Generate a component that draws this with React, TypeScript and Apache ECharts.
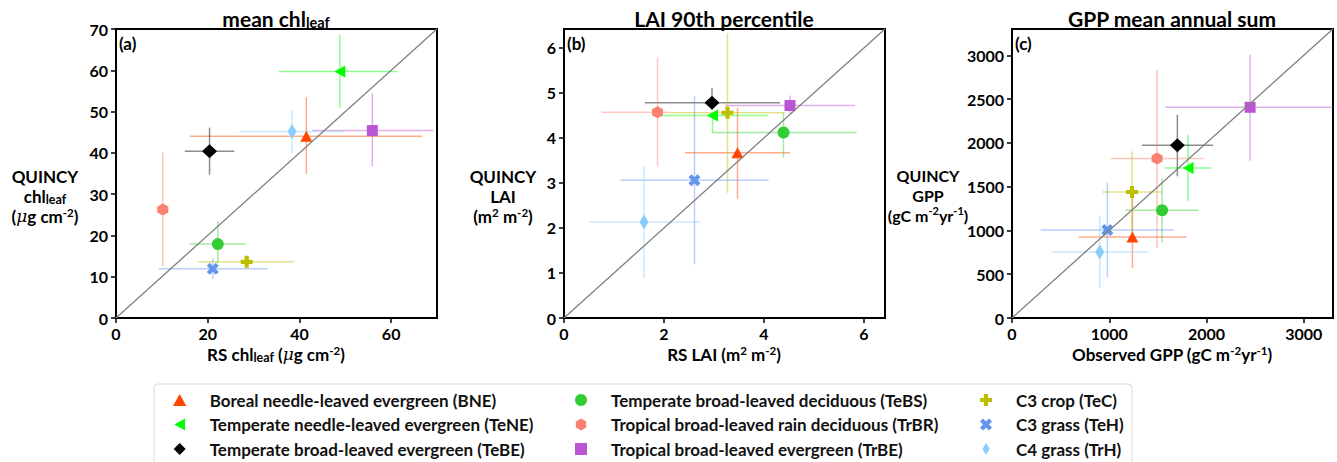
import React, { useEffect, useRef } from 'react';
import * as echarts from 'echarts';

// ---------- data ----------
const PFT_NAMES = [
  'Boreal needle-leaved evergreen (BNE)',
  'Temperate needle-leaved evergreen (TeNE)',
  'Temperate broad-leaved evergreen (TeBE)',
  'Temperate broad-leaved deciduous (TeBS)',
  'Tropical broad-leaved rain deciduous (TrBR)',
  'Tropical broad-leaved evergreen (TrBE)',
  'C3 crop (TeC)',
  'C3 grass (TeH)',
  'C4 grass (TrH)',
];

// Panel (a) mean chl_leaf
const CHL_RS = [41.5, 48.8, 20.4, 22.2, 10.2, 55.9, 28.5, 21.1, 38.4];
const CHL_RS_LO = [16.1, 35.5, 15.0, 16.1, 10.2, 42.8, 18.0, 9.3, 27.0];
const CHL_RS_HI = [66.8, 61.3, 25.8, 28.3, 10.2, 69.2, 38.9, 33.1, 49.7];
const CHL_Q = [44.0, 59.7, 40.4, 17.9, 26.3, 45.4, 13.6, 11.9, 45.2];
const CHL_Q_LO = [34.9, 50.8, 34.7, 13.3, 12.5, 36.7, 12.5, 9.4, 39.8];
const CHL_Q_HI = [53.5, 68.6, 46.1, 23.4, 40.0, 54.5, 14.9, 14.5, 50.4];

// Panel (b) LAI 90th percentile
const LAI_RS = [3.47, 2.97, 2.96, 4.39, 1.87, 4.52, 3.27, 2.61, 1.6];
const LAI_RS_LO = [2.42, 1.95, 1.62, 2.97, 0.75, 3.22, 2.12, 1.13, 0.5];
const LAI_RS_HI = [4.52, 4.08, 4.32, 5.85, 2.12, 5.82, 4.42, 4.09, 2.72];
const LAI_Q = [3.67, 4.5, 4.78, 4.12, 4.57, 4.72, 4.56, 3.06, 2.13];
const LAI_Q_LO = [2.65, 4.12, 4.63, 3.56, 3.37, 4.55, 2.78, 1.19, 0.89];
const LAI_Q_HI = [4.67, 4.55, 5.11, 4.56, 5.78, 4.94, 6.33, 4.93, 3.37];

// Panel (c) GPP mean annual sum
const GPP_OBS = [1238, 1810, 1700, 1543, 1491, 2448, 1234, 980, 902];
const GPP_OBS_LO = [686, 1570, 1337, 1166, 1011, 1577, 929, 295, 405];
const GPP_OBS_HI = [1793, 2050, 2067, 1920, 1971, 3400, 1543, 1666, 1406];
const GPP_Q = [925, 1713, 1972, 1230, 1820, 2406, 1439, 1005, 754];
const GPP_Q_LO = [571, 1332, 1618, 864, 799, 1797, 933, 464, 343];
const GPP_Q_HI = [1446, 2094, 2322, 1591, 2836, 3007, 1903, 1549, 1169];

// axis ranges / tick steps
const AXIS_MAX = [70, 6.42, 3300];
const X_STEP = [20, 2, 1000];
const Y_STEP = [10, 1, 500];

// ---------- styles ----------
const COLORS = ['#ff4500', '#00ff00', '#000000', '#32cd32', '#fa8072', '#ba55d3', '#bfbf00', '#6495ed', '#87cefa'];
const TRI_UP = 'path://M0,0L1,1.8L-1,1.8Z';
const TRI_LEFT = 'path://M0,0L1.8,-1L1.8,1Z';
const DIAMOND = 'path://M0,-1L1,0L0,1L-1,0Z';
const SQUARE = 'path://M0,0L1,0L1,1L0,1Z';
const HEX = 'path://M0,-1L0.866,-0.5L0.866,0.5L0,1L-0.866,0.5L-0.866,-0.5Z';
const PLUS = 'path://M-0.35,-1L0.35,-1L0.35,-0.35L1,-0.35L1,0.35L0.35,0.35L0.35,1L-0.35,1L-0.35,0.35L-1,0.35L-1,-0.35L-0.35,-0.35Z';
const CROSS = 'path://M0.474,-0.94L0.94,-0.474L0.467,0L0.94,0.474L0.474,0.94L0,0.467L-0.474,0.94L-0.94,0.474L-0.467,0L-0.94,-0.474L-0.474,-0.94L0,-0.467Z';
const THIN_DIAMOND = 'path://M0,-1L0.6,0L0,1L-0.6,0Z';
const SYMBOLS = [TRI_UP, TRI_LEFT, DIAMOND, 'circle', HEX, SQUARE, PLUS, CROSS, THIN_DIAMOND];
const SIZES: any[] = [[12, 11], [11, 12], [15, 14], [12, 12], [11, 12], [11, 11], [12, 12], [12, 12], [9, 15]];

const FONT = 'Lato';
const GRIDS = [
  { left: 116, top: 29, width: 321, height: 289 },
  { left: 564, top: 29, width: 321, height: 289 },
  { left: 1012, top: 29, width: 321, height: 289 },
];

const PANELS = [
  { x: CHL_RS, xlo: CHL_RS_LO, xhi: CHL_RS_HI, y: CHL_Q, ylo: CHL_Q_LO, yhi: CHL_Q_HI },
  { x: LAI_RS, xlo: LAI_RS_LO, xhi: LAI_RS_HI, y: LAI_Q, ylo: LAI_Q_LO, yhi: LAI_Q_HI },
  { x: GPP_OBS, xlo: GPP_OBS_LO, xhi: GPP_OBS_HI, y: GPP_Q, ylo: GPP_Q_LO, yhi: GPP_Q_HI },
];

const RICH = {
  sub: { fontFamily: FONT, fontWeight: 'bold', fontSize: 12.5, lineHeight: 12, verticalAlign: 'bottom' },
  sup: { fontFamily: FONT, fontWeight: 'bold', fontSize: 11.5, lineHeight: 11, verticalAlign: 'top' },
  mu: { fontFamily: 'DejaVu Serif', fontStyle: 'italic', fontSize: 17, lineHeight: 20 },
};
const RICH_S = {
  sup: { fontFamily: FONT, fontWeight: 'bold', fontSize: 11, lineHeight: 11, verticalAlign: 'top' },
};
const RICH_T = {
  sub: { fontFamily: FONT, fontWeight: 'bold', fontSize: 14.5, lineHeight: 14, verticalAlign: 'bottom' },
};

function txt(x: number, y: number, text: string, size: number, rich: any = RICH, lh = 20) {
  return {
    type: 'text',
    x,
    y,
    z: 20,
    style: {
      text,
      rich,
      fontFamily: FONT,
      fontWeight: 'bold',
      fontSize: size,
      lineHeight: lh,
      fill: '#000',
      align: 'center',
      verticalAlign: 'middle',
    },
  };
}

function buildOption() {
  const xAxis: any[] = [];
  const yAxis: any[] = [];
  const series: any[] = [];
  const tickLabel = {
    fontFamily: FONT,
    fontWeight: 'bold',
    fontSize: 16,
    color: '#000',
    formatter: (v: number) => String(v),
  };
  for (let p = 0; p < 3; p++) {
    const common = {
      type: 'value',
      gridIndex: p,
      min: 0,
      max: AXIS_MAX[p],
      splitLine: { show: false },
      axisLine: { show: true, onZero: false, lineStyle: { color: '#000', width: 2 } },
      axisTick: { show: true, inside: false, length: 5, lineStyle: { color: '#000', width: 1.5 } },
    };
    xAxis.push({
      ...common,
      interval: X_STEP[p],
      axisLabel: { ...tickLabel, margin: 7, showMaxLabel: false },
    });
    yAxis.push({
      ...common,
      interval: Y_STEP[p],
      axisLabel: { ...tickLabel, margin: 8, showMaxLabel: p === 0 },
    });

    const P = PANELS[p];
    // error bars
    series.push({
      type: 'custom',
      xAxisIndex: p,
      yAxisIndex: p,
      z: 2,
      silent: true,
      encode: { x: 0, y: 1 },
      data: P.x.map((v, i) => [v, P.y[i], P.xlo[i], P.xhi[i], P.ylo[i], P.yhi[i], i]),
      renderItem: (params: any, api: any) => {
        const cs = params.coordSys;
        const x = api.value(0), y = api.value(1);
        const c = COLORS[api.value(6)];
        const clampX = (v: number) => Math.max(cs.x, Math.min(cs.x + cs.width, v));
        const clampY = (v: number) => Math.max(cs.y, Math.min(cs.y + cs.height, v));
        const a = api.coord([api.value(2), y]);
        const b = api.coord([api.value(3), y]);
        const d = api.coord([x, api.value(4)]);
        const e = api.coord([x, api.value(5)]);
        const st = { stroke: c, lineWidth: 1.5, opacity: 0.45 };
        return {
          type: 'group',
          children: [
            { type: 'line', shape: { x1: clampX(a[0]), y1: a[1], x2: clampX(b[0]), y2: b[1] }, style: st },
            { type: 'line', shape: { x1: d[0], y1: clampY(d[1]), x2: e[0], y2: clampY(e[1]) }, style: st },
          ],
        };
      },
    });
    // markers
    for (let i = 0; i < PFT_NAMES.length; i++) {
      series.push({
        name: PFT_NAMES[i],
        type: 'scatter',
        xAxisIndex: p,
        yAxisIndex: p,
        z: 5,
        symbol: SYMBOLS[i],
        symbolSize: SIZES[i],
        itemStyle: { color: COLORS[i], opacity: 1 },
        emphasis: { disabled: true },
        data: [[P.x[i], P.y[i]]],
      });
    }
    // 1:1 line
    series.push({
      type: 'line',
      xAxisIndex: p,
      yAxisIndex: p,
      z: 10,
      silent: true,
      showSymbol: false,
      symbol: 'none',
      lineStyle: { color: '#808080', width: 1.3 },
      data: [[0, 0], [AXIS_MAX[p], AXIS_MAX[p]]],
    });
  }

  const legendText = { fontFamily: FONT, fontWeight: 'bold', fontSize: 17, color: '#111', lineHeight: 20 };
  const legendCols = [
    { left: 173, names: PFT_NAMES.slice(0, 3) },
    { left: 575, names: PFT_NAMES.slice(3, 6) },
    { left: 980, names: PFT_NAMES.slice(6, 9) },
  ];
  const legend = legendCols.map((c) => ({
    orient: 'vertical',
    left: c.left,
    top: 390,
    padding: 0,
    itemWidth: 50,
    itemHeight: 12,
    itemGap: 4.5,
    selectedMode: false,
    symbolKeepAspect: true,
    textStyle: legendText,
    data: c.names,
  }));

  const graphic: any[] = [
    // legend frame
    {
      type: 'rect',
      z: 0,
      shape: { x: 154, y: 384, width: 978, height: 92, r: 4 },
      style: { fill: 'none', stroke: '#d9d9d9', lineWidth: 1 },
    },
    // titles
    txt(276, 18, 'mean chl{sub|leaf}', 21, RICH_T, 24),
    txt(724, 18, 'LAI 90th percentile', 21, RICH_T, 24),
    txt(1172, 18, 'GPP mean annual sum', 21, RICH_T, 24),
    // x labels
    txt(276, 354, 'RS chl{sub|leaf} ({mu|μ}g cm{sup|-2})', 17),
    txt(724, 354, 'RS LAI (m{sup|2} m{sup|-2})', 17),
    txt(1172, 354, 'Observed GPP (gC m{sup|-2}yr{sup|-1})', 17),
    // y labels
    txt(45, 196, 'QUINCY\nchl{sub|leaf}\n({mu|μ}g cm{sup|-2})', 17),
    txt(503, 196, 'QUINCY\nLAI\n(m{sup|2} m{sup|-2})', 17),
    txt(928, 195, 'QUINCY\nGPP\n(gC m{sup|-2}yr{sup|-1})', 16, RICH_S),
  ];
  // panel letters
  ['(a)', '(b)', '(c)'].forEach((t, p) => {
    graphic.push({
      type: 'text',
      x: GRIDS[p].left + 3,
      y: 43,
      z: 20,
      style: {
        text: t,
        fontFamily: FONT,
        fontWeight: 'bold',
        fontSize: 17,
        fill: '#000',
        align: 'left',
        verticalAlign: 'middle',
      },
    });
  });

  return {
    animation: false,
    backgroundColor: '#fff',
    grid: GRIDS.map((g) => ({ ...g, show: true, borderColor: '#000', borderWidth: 2, backgroundColor: 'transparent', containLabel: false })),
    xAxis,
    yAxis,
    legend,
    graphic,
    series,
  };
}

export default function App() {
  const ref = useRef<HTMLDivElement>(null);
  useEffect(() => {
    document.body.style.margin = '0';
    const chart = echarts.init(ref.current as HTMLDivElement, undefined, { renderer: 'svg' });
    chart.setOption(buildOption() as any);
    return () => chart.dispose();
  }, []);
  return <div ref={ref} style={{ width: 1337, height: 462 }} />;
}
